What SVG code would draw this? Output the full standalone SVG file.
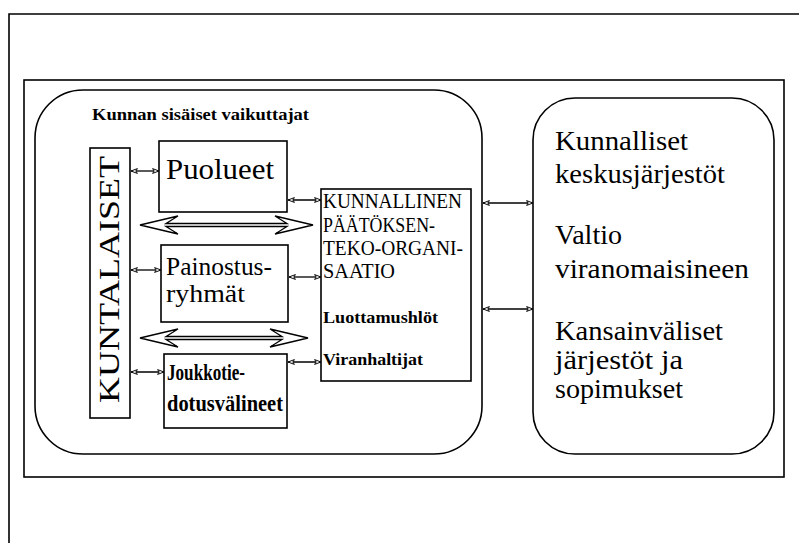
<svg xmlns="http://www.w3.org/2000/svg" width="799" height="543" viewBox="0 0 799 543" font-family="'Liberation Serif', 'Times New Roman', 'DejaVu Serif', serif">
<defs>
<style>
.ln{fill:none;stroke:#000;stroke-width:1.6}
.box{fill:#fff;stroke:#000;stroke-width:1.6}
text{font-family:'Liberation Serif','Times New Roman','DejaVu Serif',serif;fill:#000}
.c{stroke:#000;stroke-width:1.3;fill:none;marker-start:url(#ah);marker-end:url(#ah)}
.big{fill:#fff;stroke:#000;stroke-width:1.3;stroke-linejoin:miter}
</style>
<marker id="ah" viewBox="0 0 10 8" refX="9" refY="4" markerWidth="8" markerHeight="7" markerUnits="userSpaceOnUse" orient="auto-start-reverse">
<path d="M1,1 L9,4 L1,7 L3,4 Z" fill="#fff" stroke="#000" stroke-width="1.2"/>
</marker>
</defs>
<rect width="799" height="543" fill="#fff"/>
<path class="ln" d="M9,543 V14 H799" stroke-width="2.2"/>
<rect class="ln" x="24" y="80" width="760" height="397"/>

<g id="kunnan">
<rect class="ln" x="35" y="90" width="447" height="364" rx="48" ry="48"/>
<text x="92" y="120" font-size="17" font-weight="bold" textLength="217" lengthAdjust="spacingAndGlyphs">Kunnan sisäiset vaikuttajat</text>
</g>

<g id="ulkoiset" font-size="28">
<rect class="ln" x="533" y="98" width="241" height="356" rx="42" ry="42"/>
<text x="555" y="150" textLength="133" lengthAdjust="spacingAndGlyphs">Kunnalliset</text>
<text x="555" y="183" textLength="170" lengthAdjust="spacingAndGlyphs">keskusjärjestöt</text>
<text x="555" y="244" textLength="67" lengthAdjust="spacingAndGlyphs">Valtio</text>
<text x="555" y="278" textLength="194" lengthAdjust="spacingAndGlyphs">viranomaisineen</text>
<text x="555" y="340" textLength="168" lengthAdjust="spacingAndGlyphs">Kansainväliset</text>
<text x="555" y="369" textLength="128" lengthAdjust="spacingAndGlyphs">järjestöt ja</text>
<text x="555" y="398" textLength="128" lengthAdjust="spacingAndGlyphs">sopimukset</text>
</g>

<g id="kuntalaiset">
<rect class="box" x="90" y="148" width="40" height="270"/>
<text font-size="30" transform="translate(119,403) rotate(-90)" textLength="247" lengthAdjust="spacingAndGlyphs">KUNTALAISET</text>
</g>

<g id="puolueet">
<rect class="box" x="159" y="141" width="128" height="71"/>
<text x="166" y="179" font-size="30" textLength="108" lengthAdjust="spacingAndGlyphs">Puolueet</text>
</g>

<g id="painostus">
<rect class="box" x="161" y="245" width="127" height="77"/>
<text x="166" y="275" font-size="25" textLength="106" lengthAdjust="spacingAndGlyphs">Painostus-</text>
<text x="166" y="302" font-size="25" textLength="79" lengthAdjust="spacingAndGlyphs">ryhmät</text>
</g>

<g id="joukkotiedotus">
<rect class="box" x="164" y="354" width="123" height="74"/>
<text x="167" y="380" font-size="23" font-weight="bold" textLength="78" lengthAdjust="spacingAndGlyphs">Joukkotie-</text>
<text x="167" y="411" font-size="23" font-weight="bold" textLength="116" lengthAdjust="spacingAndGlyphs">dotusvälineet</text>
</g>

<g id="paatoksenteko">
<rect class="box" x="321" y="189" width="150" height="192"/>
<text x="323" y="208" font-size="20" textLength="139" lengthAdjust="spacingAndGlyphs">KUNNALLINEN</text>
<text x="323" y="232" font-size="20" textLength="112" lengthAdjust="spacingAndGlyphs">PÄÄTÖKSEN-</text>
<text x="323" y="255" font-size="20" textLength="140" lengthAdjust="spacingAndGlyphs">TEKO-ORGANI-</text>
<text x="323" y="278" font-size="20" textLength="72" lengthAdjust="spacingAndGlyphs">SAATIO</text>
<text x="323" y="323" font-size="17" font-weight="bold" textLength="115" lengthAdjust="spacingAndGlyphs">Luottamushlöt</text>
<text x="323" y="365" font-size="17" font-weight="bold" textLength="100" lengthAdjust="spacingAndGlyphs">Viranhaltijat</text>
</g>

<g id="connectors">
<line class="c" x1="131" y1="171" x2="159" y2="171"/>
<line class="c" x1="131" y1="270" x2="161" y2="270"/>
<line class="c" x1="131" y1="372" x2="164" y2="372"/>
<line class="c" x1="288" y1="200" x2="321" y2="200"/>
<line class="c" x1="289" y1="277" x2="321" y2="277"/>
<line class="c" x1="288" y1="362" x2="321" y2="362"/>
<line class="c" x1="483" y1="203" x2="533" y2="203"/>
<line class="c" x1="483" y1="309" x2="533" y2="309"/>
<path class="big" d="M140,225 L178,216 L166,223.5 L287,223.5 L275,216 L313,225 L275,234 L287,226.5 L166,226.5 L178,234 Z"/>
<path class="big" d="M140,338 L178,329 L166,336.5 L282,336.5 L270,329 L308,338 L270,347 L282,339.5 L166,339.5 L178,347 Z"/>
</g>
</svg>
